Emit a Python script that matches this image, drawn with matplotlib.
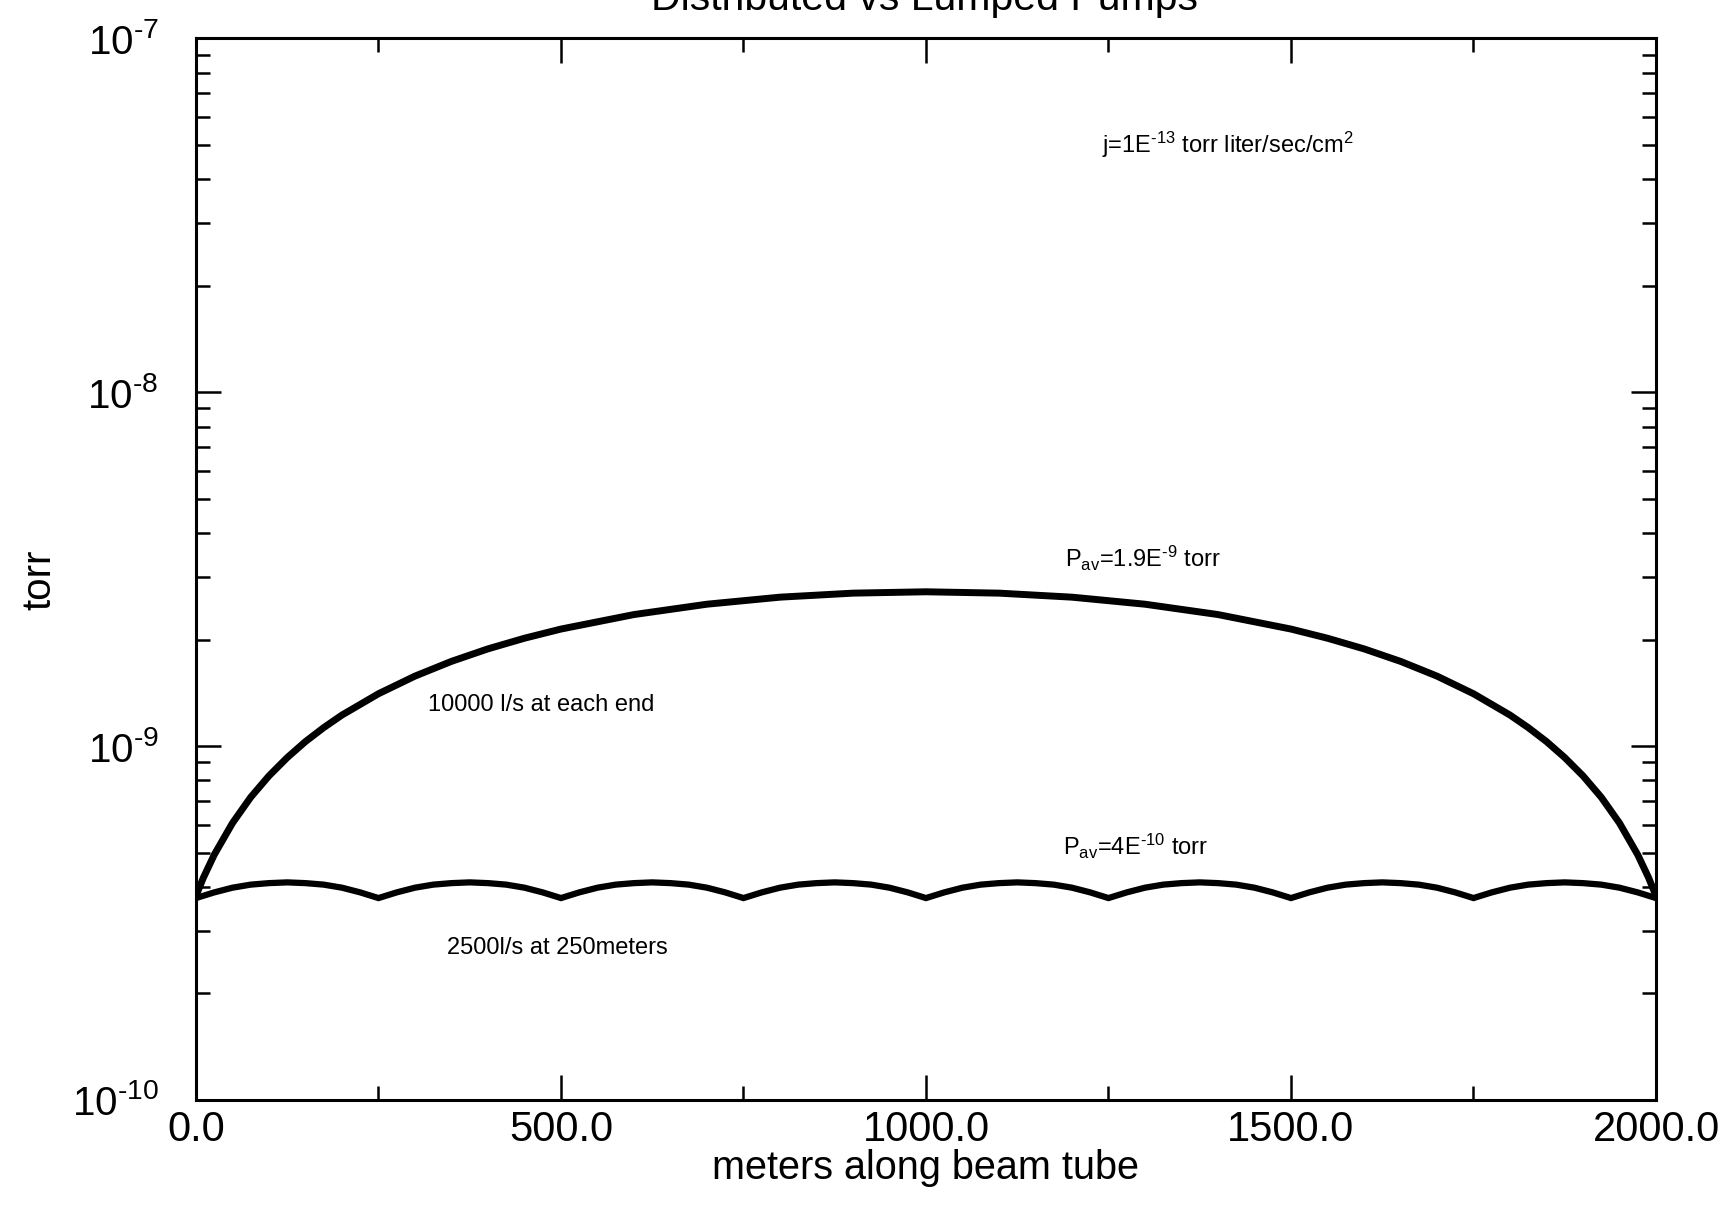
import numpy as np
import matplotlib.pyplot as plt
from matplotlib.ticker import LogLocator, MultipleLocator, NullFormatter, FixedLocator

plt.rcParams['font.family'] = ['Liberation Sans', 'DejaVu Sans']
plt.rcParams['mathtext.fontset'] = 'custom'
plt.rcParams['mathtext.rm'] = 'Liberation Sans'
plt.rcParams['mathtext.default'] = 'regular'

# distributed pumping: 10000 l/s at each end (meters, torr)
xDist = [0, 10, 25, 50, 75, 100, 125, 150, 175, 200, 250, 300, 350, 400, 450, 500, 600, 700, 800, 900,
         1000, 1100, 1200, 1300, 1400, 1500, 1550, 1600, 1650, 1700, 1750, 1800, 1825, 1850, 1875, 1900,
         1925, 1950, 1975, 1990, 2000]
pDist = [3.77e-10, 4.24e-10, 4.93e-10, 6.06e-10, 7.17e-10, 8.24e-10, 9.28e-10, 1.03e-9, 1.128e-9, 1.224e-9,
         1.406e-9, 1.577e-9, 1.736e-9, 1.883e-9, 2.018e-9, 2.142e-9, 2.354e-9, 2.518e-9, 2.636e-9, 2.706e-9,
         2.73e-9, 2.706e-9, 2.636e-9, 2.518e-9, 2.354e-9, 2.142e-9, 2.018e-9, 1.883e-9, 1.736e-9, 1.577e-9,
         1.406e-9, 1.224e-9, 1.128e-9, 1.03e-9, 9.28e-10, 8.24e-10, 7.17e-10, 6.06e-10, 4.93e-10, 4.24e-10,
         3.77e-10]

# lumped pumps: 2500 l/s every 250 m, sampled every 25 m
xLump = np.arange(0, 2001, 25)
pLump = [3.72e-10, 3.86e-10, 3.98e-10, 4.06e-10, 4.10e-10, 4.12e-10, 4.10e-10, 4.06e-10, 3.98e-10, 3.86e-10,
         3.72e-10, 3.86e-10, 3.98e-10, 4.06e-10, 4.10e-10, 4.12e-10, 4.10e-10, 4.06e-10, 3.98e-10, 3.86e-10,
         3.72e-10, 3.86e-10, 3.98e-10, 4.06e-10, 4.10e-10, 4.12e-10, 4.10e-10, 4.06e-10, 3.98e-10, 3.86e-10,
         3.72e-10, 3.86e-10, 3.98e-10, 4.06e-10, 4.10e-10, 4.12e-10, 4.10e-10, 4.06e-10, 3.98e-10, 3.86e-10,
         3.72e-10, 3.86e-10, 3.98e-10, 4.06e-10, 4.10e-10, 4.12e-10, 4.10e-10, 4.06e-10, 3.98e-10, 3.86e-10,
         3.72e-10, 3.86e-10, 3.98e-10, 4.06e-10, 4.10e-10, 4.12e-10, 4.10e-10, 4.06e-10, 3.98e-10, 3.86e-10,
         3.72e-10, 3.86e-10, 3.98e-10, 4.06e-10, 4.10e-10, 4.12e-10, 4.10e-10, 4.06e-10, 3.98e-10, 3.86e-10,
         3.72e-10, 3.86e-10, 3.98e-10, 4.06e-10, 4.10e-10, 4.12e-10, 4.10e-10, 4.06e-10, 3.98e-10, 3.86e-10,
         3.72e-10]

xTicks = [0, 500, 1000, 1500, 2000]
xTickLabels = ['0.0', '500.0', '1000.0', '1500.0', '2000.0']
yTicks = [1e-10, 1e-9, 1e-8, 1e-7]
yTickLabels = [r'$10^{\text{-}10}$', r'$10^{\text{-}9}$', r'$10^{\text{-}8}$', r'$10^{\text{-}7}$']

fig = plt.figure(figsize=(17.25, 12.09), dpi=100)
ax = fig.add_axes([0.1136, 0.0902, 0.8464, 0.878])

ax.plot(xDist, pDist, color='black', lw=5, solid_joinstyle='round')
ax.plot(xLump, pLump, color='black', lw=4.5, solid_joinstyle='miter')

ax.set_yscale('log')
ax.set_xlim(0, 2000)
ax.set_ylim(1e-10, 1e-7)

ax.xaxis.set_major_locator(FixedLocator(xTicks))
ax.set_xticklabels(xTickLabels)
ax.xaxis.set_minor_locator(MultipleLocator(250))
ax.yaxis.set_major_locator(FixedLocator(yTicks))
ax.set_yticklabels(yTickLabels)
ax.yaxis.set_minor_locator(LogLocator(base=10, subs=np.arange(2, 10)))
ax.yaxis.set_minor_formatter(NullFormatter())

ax.tick_params(which='both', direction='in', top=True, right=True, width=1.8, color='black')
ax.tick_params(which='major', length=18)
ax.tick_params(which='minor', length=10)
ax.tick_params(axis='x', which='major', labelsize=30, pad=7)
ax.tick_params(axis='y', which='major', labelsize=29, pad=27)
for s in ax.spines.values():
    s.set_linewidth(2.2)

ax.set_xlabel('meters along beam tube', fontsize=28.5, va='center')
ax.xaxis.set_label_coords(0.5, -0.064)
ax.set_ylabel('torr', fontsize=29, va='center')
ax.yaxis.set_label_coords(-0.107, 0.49)

fig.text(0.5357, 0.9917, 'Distributed vs Lumped Pumps', fontsize=29.5, ha='center', va='baseline')

ax.text(0.6205, 0.892, r'j=1E$^{\text{-}13}$ torr liter/sec/cm$^{2}$', transform=ax.transAxes,
        fontsize=17, va='baseline')
ax.text(0.595, 0.502, r'P$_{av}$=1.9E$^{\text{-}9}$ torr', transform=ax.transAxes,
        fontsize=17, va='baseline')
ax.text(0.594, 0.2308, r'P$_{av}$=4E$^{\text{-}10}$ torr', transform=ax.transAxes,
        fontsize=17, va='baseline')
ax.text(0.159, 0.372, '10000 l/s at each end', transform=ax.transAxes,
        fontsize=17, va='center')
ax.text(0.172, 0.1432, '2500l/s at 250meters', transform=ax.transAxes,
        fontsize=17, va='center')

plt.savefig('out.png', dpi=100)
